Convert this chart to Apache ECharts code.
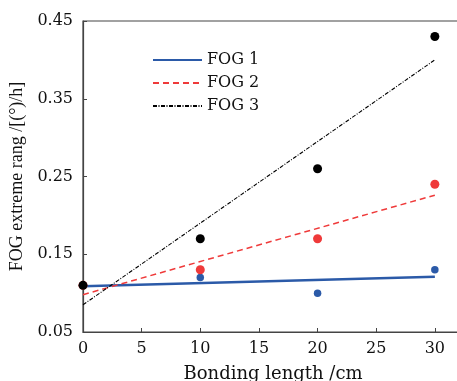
<!DOCTYPE html>
<html>
<head>
<meta charset="utf-8">
<script src="https://cdn.jsdelivr.net/npm/echarts@6/dist/echarts.min.js"></script>
<style>html,body{margin:0;padding:0;background:#fff;}#c{width:457px;height:381px;}</style>
</head>
<body>
<div id="c"></div>
<script>
// Data
const bondingLength = [0, 10, 20, 30];
const fog1Values = [0.11, 0.12, 0.10, 0.13];
const fog2Values = [0.11, 0.13, 0.17, 0.24];
const fog3Values = [0.11, 0.17, 0.26, 0.43];
// Fitted trend lines (endpoints)
const fitX = [0, 30];
const fog1Fit = [0.109, 0.121];
const fog2Fit = [0.098, 0.226];
const fog3Fit = [0.085, 0.400];
const seriesNames = ['FOG 1', 'FOG 2', 'FOG 3'];
const yTicks = [0.05, 0.15, 0.25, 0.35, 0.45];

const colors = ['#2b5aa8', '#ef3a3a', '#000000'];
const pair = (xs, ys) => xs.map((x, i) => [x, ys[i]]);
const serif = 'DejaVu Serif';

const chart = echarts.init(document.getElementById('c'), null, {renderer: 'canvas'});
chart.setOption({
  animation: false,
  backgroundColor: '#fff',
  grid: {left: 83, top: 21, width: 380, height: 311, containLabel: false, outerBoundsMode: 'none',
         show: true, borderColor: '#444', borderWidth: 1.2, backgroundColor: 'transparent'},
  legend: {
    data: seriesNames,
    orient: 'vertical',
    left: 147, top: 47,
    itemWidth: 49, itemHeight: 14, itemGap: 7,
    icon: 'inherit',
    itemStyle: {opacity: 0},
    textStyle: {fontFamily: serif, fontSize: 16, color: '#111'}
  },
  xAxis: {
    type: 'value', min: 0, max: 32.4, interval: 5,
    name: 'Bonding length /cm', nameLocation: 'middle', nameGap: 33,
    nameTextStyle: {fontFamily: serif, fontSize: 18, color: '#111'},
    axisLine: {lineStyle: {color: '#444', width: 1.2}},
    axisTick: {inside: true, length: 4, lineStyle: {color: '#444'}},
    axisLabel: {fontFamily: serif, fontSize: 16, color: '#111', margin: 9, showMaxLabel: false},
    splitLine: {show: false}
  },
  yAxis: {
    type: 'value', min: yTicks[0], max: yTicks[yTicks.length - 1], interval: 0.1,
    name: 'FOG extreme rang /[(°)/h]', nameLocation: 'middle', nameGap: 50,
    nameTextStyle: {fontFamily: 'Liberation Serif', fontSize: 18, color: '#111'},
    axisLine: {lineStyle: {color: '#444', width: 1.2}},
    axisTick: {inside: true, length: 4, lineStyle: {color: '#444'}},
    axisLabel: {fontFamily: serif, fontSize: 16, color: '#111', margin: 10, formatter: v => v.toFixed(2)},
    splitLine: {show: false}
  },
  series: [
    {name: seriesNames[0], type: 'line', data: pair(fitX, fog1Fit), symbol: 'none', lineStyle: {color: colors[0], width: 2.5, type: 'solid'}, itemStyle: {color: colors[0]}, z: 3},
    {name: seriesNames[1], type: 'line', data: pair(fitX, fog2Fit), symbol: 'none', lineStyle: {color: colors[1], width: 1.5, type: [6, 4]}, itemStyle: {color: colors[1]}, z: 3},
    {name: seriesNames[2], type: 'line', data: pair(fitX, fog3Fit), symbol: 'none', lineStyle: {color: colors[2], width: 1.1, type: [4, 1.5, 1, 1.5]}, itemStyle: {color: colors[2]}, z: 3},
    {name: 'pts1', type: 'scatter', data: pair(bondingLength, fog1Values), symbolSize: 7.5, itemStyle: {color: colors[0], opacity: 1}, z: 4},
    {name: 'pts2', type: 'scatter', data: pair(bondingLength, fog2Values), symbolSize: 9, itemStyle: {color: colors[1], opacity: 1}, z: 5},
    {name: 'pts3', type: 'scatter', data: pair(bondingLength, fog3Values), symbolSize: 9, itemStyle: {color: colors[2], opacity: 1}, z: 6}
  ]
});
</script>
</body>
</html>
